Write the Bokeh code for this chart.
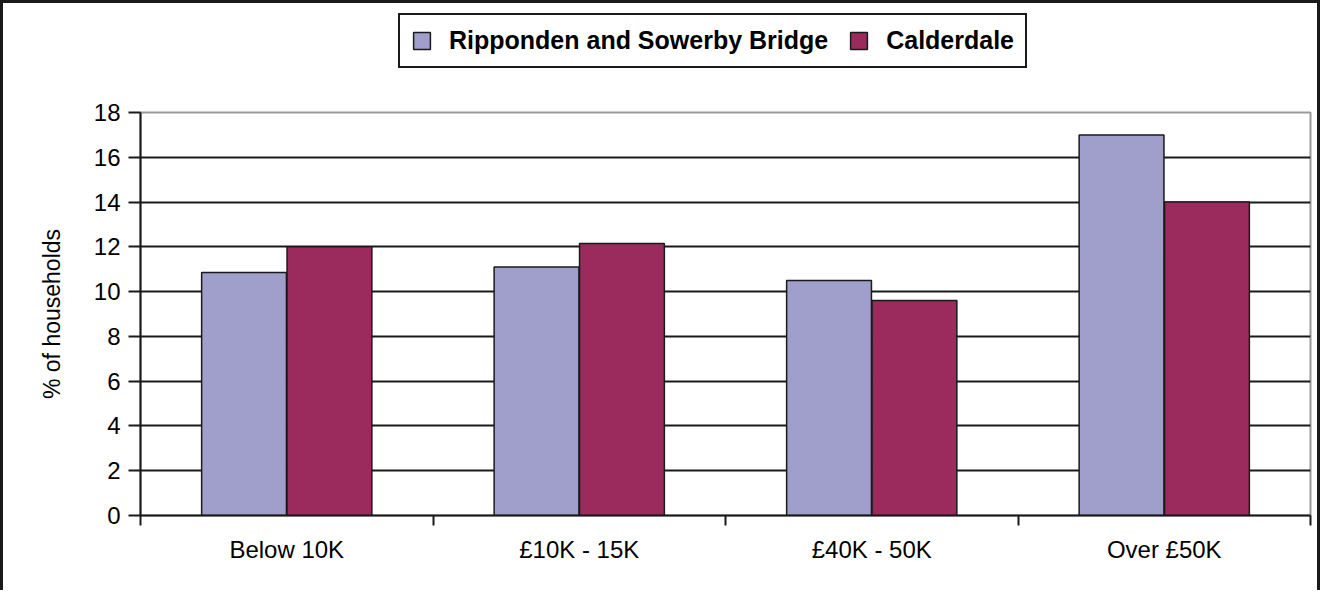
from bokeh.plotting import figure
from bokeh.models import (ColumnDataSource, Range1d, FixedTicker, Legend, LegendItem)
from bokeh.layouts import column
from bokeh.embed import file_html
from bokeh.resources import INLINE

categories = ["Below 10K", "£10K - 15K", "£40K - 50K", "Over £50K"]
ripponden = [10.85, 11.1, 10.5, 17.0]
calderdale = [12.0, 12.15, 9.6, 14.0]
series_names = ["Ripponden and Sowerby Bridge", "Calderdale"]
y_ticks = [0, 2, 4, 6, 8, 10, 12, 14, 16, 18]

FONT = "Liberation Sans"
c1 = "#A09ECA"
c2 = "#9A2B5C"
EDGE = "#1a1a1a"

centers = [i + 0.5 for i in range(len(categories))]
off = 0.146
bw = 0.29

src1 = ColumnDataSource(dict(x=[c - off for c in centers], top=ripponden))
src2 = ColumnDataSource(dict(x=[c + off for c in centers], top=calderdale))

# ---- legend strip (top) ----
top = figure(width=1320, height=98, output_backend="svg", toolbar_location=None,
             x_range=Range1d(0, len(categories)), y_range=Range1d(100, 200),
             min_border_left=0, min_border_right=0, min_border_top=0,
             min_border_bottom=0, x_axis_type=None, y_axis_type=None)
top.outline_line_color = None
top.grid.grid_line_color = None
t1 = top.vbar(x="x", top="top", width=bw, source=src1, fill_color=c1,
              line_color=EDGE, line_width=1.5)
t2 = top.vbar(x="x", top="top", width=bw, source=src2, fill_color=c2,
              line_color=EDGE, line_width=1.5)
legend = Legend(items=[LegendItem(label=series_names[0], renderers=[t1]),
                       LegendItem(label=series_names[1], renderers=[t2])],
                location=(258, 33), orientation="horizontal",
                label_text_font=FONT, label_text_font_style="bold",
                label_text_font_size="25px", label_text_color="black",
                glyph_width=21, glyph_height=21, label_standoff=17, spacing=20,
                padding=11, margin=0, border_line_color=EDGE,
                border_line_alpha=1, border_line_width=2,
                background_fill_alpha=1)
top.add_layout(legend, "center")
top.styles = {"border-top": "3px solid #1a1a1a", "border-left": "3px solid #1a1a1a",
              "border-right": "3px solid #1a1a1a", "box-sizing": "border-box"}

# ---- chart ----
p = figure(width=1320, height=492, output_backend="svg", toolbar_location=None,
           x_range=Range1d(0, len(categories)), y_range=Range1d(0, 18),
           min_border_left=137, min_border_right=13, min_border_top=14,
           min_border_bottom=75)

r1 = p.vbar(x="x", top="top", width=bw, source=src1, fill_color=c1,
            line_color=EDGE, line_width=1.5)
r2 = p.vbar(x="x", top="top", width=bw, source=src2, fill_color=c2,
            line_color=EDGE, line_width=1.5)

p.outline_line_color = "#999999"
p.outline_line_width = 2

p.xgrid.grid_line_color = None
p.ygrid.grid_line_color = EDGE
p.ygrid.grid_line_width = 2
p.ygrid.ticker = FixedTicker(ticks=y_ticks)
p.grid.level = "underlay"

xa = p.xaxis[0]
xa.ticker = FixedTicker(ticks=centers, minor_ticks=list(range(len(categories) + 1)))
xa.major_label_overrides = {c: lab for c, lab in zip(centers, categories)}
xa.major_tick_line_color = None
xa.minor_tick_line_color = EDGE
xa.minor_tick_line_width = 2
xa.minor_tick_out = 10
xa.minor_tick_in = 0
xa.axis_line_color = EDGE
xa.axis_line_width = 2
xa.major_label_text_font = FONT
xa.major_label_text_font_size = "24px"
xa.major_label_text_color = "black"
xa.major_label_standoff = 10

ya = p.yaxis[0]
ya.ticker = FixedTicker(ticks=y_ticks)
ya.minor_tick_line_color = None
ya.major_tick_line_color = EDGE
ya.major_tick_line_width = 2
ya.major_tick_out = 12
ya.major_tick_in = 0
ya.axis_line_color = EDGE
ya.axis_line_width = 2
ya.major_label_text_font = FONT
ya.major_label_text_font_size = "24px"
ya.major_label_text_color = "black"
ya.major_label_standoff = 8
ya.axis_label = "% of households"
ya.axis_label_text_font = FONT
ya.axis_label_text_font_size = "23px"
ya.axis_label_text_font_style = "normal"
ya.axis_label_text_color = "black"
ya.axis_label_standoff = 26

p.styles = {"border-left": "3px solid #1a1a1a",
            "border-right": "3px solid #1a1a1a", "box-sizing": "border-box"}

layout = column(top, p, spacing=0)
open("out.html", "w").write(file_html(layout, INLINE))
